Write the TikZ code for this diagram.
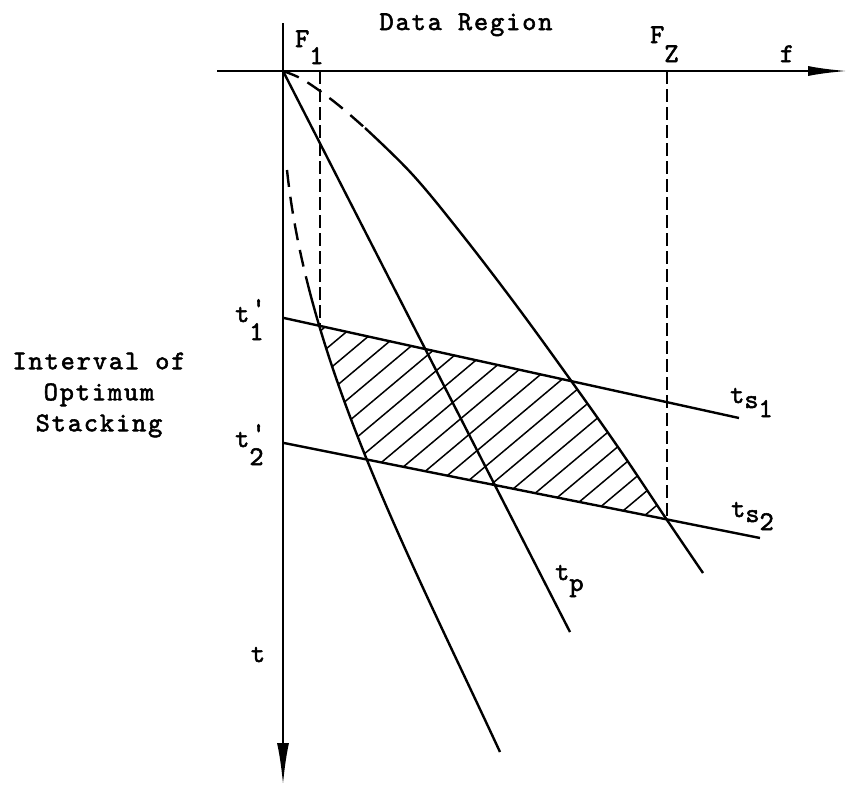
\documentclass[tikz,border=0pt]{standalone}
\usepackage{fontspec}
\newfontfamily\tw[LetterSpace=7, FakeBold=2]{lmmono10-regular.otf}
\usetikzlibrary{arrows.meta}
\def\lx#1{(287+20.645*((#1)-1.7)+5.1417*((#1)-1.7)*((#1)-3.25)-0.48137*((#1)-1.7)*((#1)-3.25)*((#1)-4.6))}
\begin{document}
\begin{tikzpicture}[x=1pt,y=-1pt,
  axis/.style={line width=2.5pt},
  curve/.style={line width=2.4pt},
  dashcurve/.style={line width=2.4pt, dash pattern=on 17pt off 10pt},
  guide/.style={line width=1.6pt, dash pattern=on 13pt off 5pt},
  hatch/.style={line width=1.5pt},
  lbl/.style={font=\tw\fontsize{27}{31}\selectfont, inner sep=0pt, anchor=base west},
  ctxt/.style={font=\tw\fontsize{27}{31}\selectfont, inner sep=0pt},
]
\useasboundingbox (0,0) rectangle (848,790);

% axes
\coordinate (O) at (283,71);
\coordinate (fL) at (217,71);
\coordinate (fR) at (848,71);
\coordinate (tT) at (283,23);
\coordinate (tB) at (283,785);
\draw[axis, -{Latex[length=40pt,width=10pt]}] (fL) -- (fR);
\draw[axis, -{Latex[length=42pt,width=12pt]}] (tT) -- (tB);

% stacking lines
\coordinate (s1a) at (284,318);
\coordinate (s1b) at (739,418);
\coordinate (s2a) at (284,443);
\coordinate (s2b) at (760,538);
\draw[curve] (s1a) -- (s1b);
\draw[curve] (s2a) -- (s2b);

% hatching
\begin{scope}
  \clip (s1a) -- (s1b) -- (s2b) -- (s2a) -- cycle;
  \clip plot[domain=1.7:7.52, samples=80, variable=\u] ({\lx{\u}},{100*\u}) -- (848,752) -- (848,170) -- cycle;
  \clip plot[smooth, tension=0.6] coordinates {(283,71) (300,78) (320,91) (342,108) (365,128) (412,174) (460,232) (516,305) (572,382) (620,450) (667,520) (703,573)} -- (283,573) -- cycle;
  \foreach \k in {-17,...,10} {
    \draw[hatch] ({513+\k*11.25-400*0.766},{489+\k*13.4+400*0.643}) -- ({513+\k*11.25+400*0.766},{489+\k*13.4-400*0.643});
  }
\end{scope}

% left curve
\draw[dashcurve] plot[domain=1.7:2.85, samples=25, variable=\u] ({\lx{\u}},{100*\u});
\draw[curve] plot[domain=2.85:7.52, samples=80, variable=\u] ({\lx{\u}},{100*\u});

% t_p line
\coordinate (tpEnd) at (570,632);
\draw[curve] (O) -- (tpEnd);

% right curve
\draw[dashcurve] plot[smooth, tension=0.6] coordinates {(283,71) (300,78) (320,91) (342,108) (365,128)};
\draw[curve] plot[smooth, tension=0.6] coordinates {(365,128) (412,174) (460,232) (516,305) (572,382) (620,450) (667,520) (703,573)};

% guide lines
\coordinate (F1t) at (320,71);
\coordinate (F1b) at (320,326);
\coordinate (FZt) at (667,71);
\coordinate (FZb) at (667,520);
\draw[guide] (F1t) -- (F1b);
\draw[guide] (FZt) -- (FZb);

% labels
\node[ctxt, anchor=base] (dr) at (466,30) {Data Region};
\node[lbl] (F1) at (295,47) {F\raisebox{-17pt}{1}};
\node[lbl] (FZ) at (650,43) {F\raisebox{-19pt}{Z}};
\node[ctxt, anchor=base] (f) at (787,62) {f};
\node[lbl] (t1) at (235,322) {t\raisebox{-18pt}{1}\kern-12pt\raisebox{6pt}{'}};
\node[lbl] (t2) at (235,447) {t\raisebox{-18pt}{2}\kern-12pt\raisebox{6pt}{'}};
\node[lbl] (ts1) at (730,403) {t\raisebox{-5pt}{s}\raisebox{-14pt}{1}};
\node[lbl] (ts2) at (731,517) {t\raisebox{-5pt}{s}\raisebox{-13pt}{2}};
\node[lbl] (tp) at (555,580) {t\raisebox{-11pt}{p}};
\node[ctxt, anchor=base] (t) at (258,662) {t};
\node[ctxt, align=center] (iv) at (99,395) {Interval of\\Optimum\\Stacking};
\end{tikzpicture}
\end{document}
